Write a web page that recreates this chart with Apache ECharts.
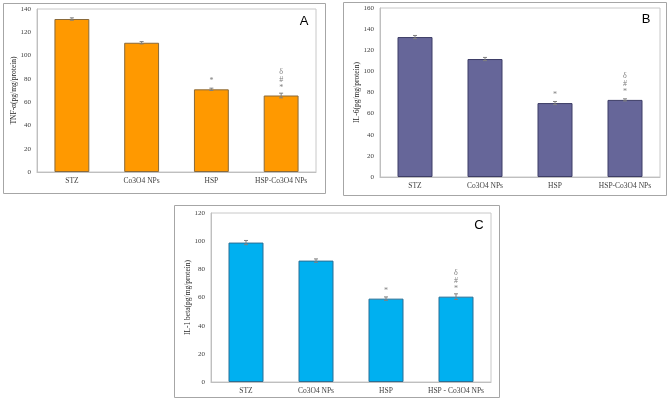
<!DOCTYPE html>
<html>
<head>
<meta charset="utf-8">
<script src="https://cdn.jsdelivr.net/npm/echarts@6/dist/echarts.min.js"></script>
<style>
  html, body { margin: 0; padding: 0; background: #fff; }
  #chart { width: 669px; height: 399px; }
</style>
</head>
<body>
<div id="chart"></div>
<script>
const categoriesAB = ['STZ', 'Co3O4 NPs', 'HSP', 'HSP-Co3O4 NPs'];
const categoriesC = ['STZ', 'Co3O4 NPs', 'HSP', 'HSP - Co3O4 NPs'];

const tnfValues = [131.4, 111, 71, 65.7];
const tnfErrors = [1, 1, 1, 2];
const il6Values = [132.5, 111.7, 70, 73];
const il6Errors = [1.5, 1.5, 1.5, 1];
const il1Values = [99, 86.2, 59.2, 60.6];
const il1Errors = [1.5, 1.2, 1.2, 2];

// significance marks above bars
const sigMarks = ['', '', '*', 'δ\n#\n*'];

const serif = 'Liberation Serif';
const chart = echarts.init(document.getElementById('chart'), null, { renderer: 'canvas' });

// panel definitions: grid placement and look
const panels = [
  { grid: { left: 37, top: 9, width: 279, height: 163 }, cats: categoriesAB, values: tnfValues, errors: tnfErrors,
    max: 140, name: 'TNF-α(pg/mg/protein)', color: '#FF9900', border: '#8a6a3a' },
  { grid: { left: 380, top: 8, width: 280, height: 169 }, cats: categoriesAB, values: il6Values, errors: il6Errors,
    max: 160, name: 'IL-6(pg/mg/protein)', color: '#666699', border: '#3d3d66' },
  { grid: { left: 211, top: 213, width: 280, height: 169 }, cats: categoriesC, values: il1Values, errors: il1Errors,
    max: 120, name: 'IL-1 beta(pg/mg/protein)', color: '#00B0F0', border: '#2a6f95' }
];

const errorBarItem = (errors) => function (params, api) {
  const i = api.value(0);
  const v = api.value(1);
  const e = errors[i];
  const top = api.coord([i, v + e]);
  const bot = api.coord([i, v - e]);
  const style = { stroke: '#808080', lineWidth: 1 };
  return {
    type: 'group',
    children: [
      { type: 'line', shape: { x1: top[0], y1: top[1], x2: bot[0], y2: bot[1] }, style },
      { type: 'line', shape: { x1: top[0] - 2, y1: top[1], x2: top[0] + 2, y2: top[1] }, style },
      { type: 'line', shape: { x1: bot[0] - 2, y1: bot[1], x2: bot[0] + 2, y2: bot[1] }, style }
    ]
  };
};

const grids = [], xAxes = [], yAxes = [], series = [];
panels.forEach((p, k) => {
  grids.push(Object.assign({ show: true, borderColor: '#c8c8c8', borderWidth: 1, backgroundColor: 'transparent' }, p.grid));
  xAxes.push({
    type: 'category', gridIndex: k, data: p.cats,
    axisLine: { lineStyle: { color: '#bfbfbf' } },
    axisTick: { show: false },
    axisLabel: { fontFamily: serif, fontSize: 7.5, color: '#404040', margin: 5, interval: 0 }
  });
  yAxes.push({
    type: 'value', gridIndex: k, min: 0, max: p.max, interval: 20,
    name: p.name, nameLocation: 'middle', nameGap: 19, nameMoveOverlap: false,
    nameTextStyle: { fontFamily: serif, fontSize: 7.5, color: '#262626' },
    axisLine: { show: true, lineStyle: { color: '#bfbfbf' } },
    axisTick: { show: false },
    splitLine: { show: false },
    axisLabel: { fontFamily: serif, fontSize: 7, color: '#404040', margin: 6 }
  });
  series.push({
    type: 'bar', xAxisIndex: k, yAxisIndex: k, barWidth: '50%',
    data: p.values,
    itemStyle: { color: p.color, borderColor: p.border, borderWidth: 1 },
    label: {
      show: true, position: 'top', distance: 4,
      formatter: (d) => sigMarks[d.dataIndex],
      fontFamily: serif, fontSize: 8, lineHeight: 8, color: '#7f7f7f'
    },
    animation: false
  });
  series.push({
    type: 'custom', xAxisIndex: k, yAxisIndex: k,
    renderItem: errorBarItem(p.errors),
    data: p.values.map((v, i) => [i, v]),
    z: 5, animation: false
  });
});

const frameStyle = { stroke: '#a6a6a6', fill: 'transparent', lineWidth: 1 };
const letterStyle = (t) => ({ text: t, font: '13px "Liberation Sans"', fill: '#000', textAlign: 'center', textVerticalAlign: 'middle' });

chart.setOption({
  animation: false,
  grid: grids,
  xAxis: xAxes,
  yAxis: yAxes,
  series: series,
  graphic: [
    { type: 'rect', shape: { x: 3.5, y: 3.5, width: 322, height: 190 }, style: frameStyle, silent: true },
    { type: 'rect', shape: { x: 343.5, y: 2.5, width: 323, height: 193 }, style: frameStyle, silent: true },
    { type: 'rect', shape: { x: 174.5, y: 205.5, width: 325, height: 192 }, style: frameStyle, silent: true },
    { type: 'text', x: 304, y: 21, style: letterStyle('A') },
    { type: 'text', x: 646, y: 19, style: letterStyle('B') },
    { type: 'text', x: 479, y: 225, style: letterStyle('C') }
  ]
});
</script>
</body>
</html>
